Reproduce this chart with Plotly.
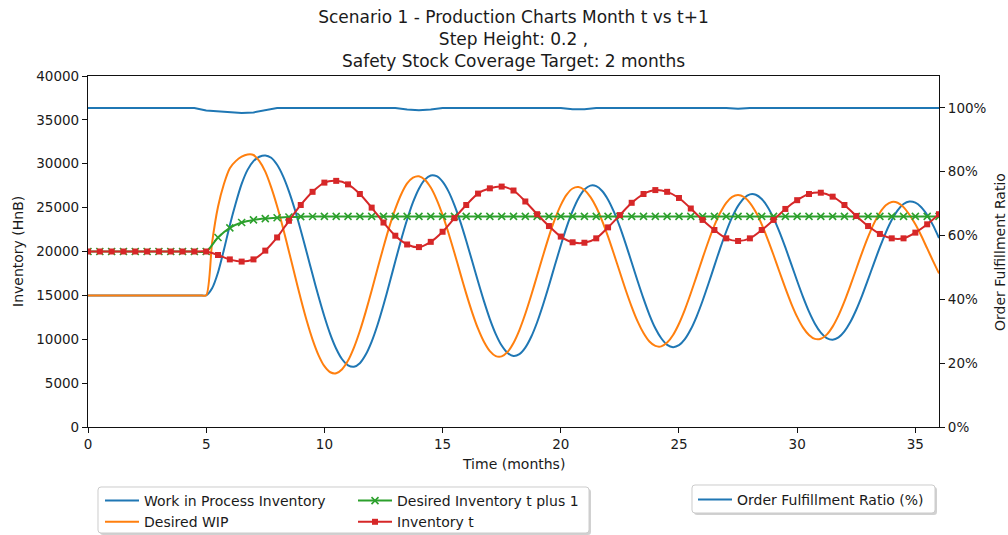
import plotly.graph_objects as go

# ---- data ----
# inventory levels are sampled every 0.5 months, WIP levels every 0.25 months
time_months = [i * 0.5 for i in range(73)]
time_fine = [i * 0.25 for i in range(145)]

wip = [15000] * 20 + [
    15000, 15800, 17600, 20200, 23000, 25500, 27700, 29300, 30300, 30800,
    30950, 30680, 29880, 28590, 26860, 24780, 22420, 19920, 17370, 14890,
    12590, 10560, 8920, 7720, 7030, 6860, 7270, 8250, 9730, 11650,
    13900, 16350, 18890, 21360, 23640, 25620, 27160, 28190, 28670, 28580,
    27960, 26850, 25290, 23400, 21220, 18910, 16580, 14340, 12300, 10590,
    9280, 8440, 8100, 8310, 9050, 10280, 11940, 13930, 16120, 18430,
    20690, 22800, 24620, 26070, 27060, 27510, 27450, 26900, 25910, 24510,
    22800, 20840, 18750, 16640, 14630, 12790, 11250, 10110, 9360, 9100,
    9320, 10010, 11130, 12620, 14390, 16350, 18390, 20410, 22280, 23910,
    25200, 26080, 26510, 26470, 25980, 25080, 23810, 22240, 20470, 18560,
    16640, 14800, 13150, 11780, 10760, 10140, 9950, 10210, 10900, 11960,
    13360, 15000, 16820, 18680, 20490, 22160, 23580, 24690, 25410, 25690,
    25560, 25040, 24160, 22980, 21540,
]

desired_wip = [15000] * 20 + [
    15000, 21000, 25100, 27700, 29500, 30300, 30800, 31050, 31000, 30300,
    29100, 27310, 25160, 22690, 20010, 17290, 14610, 12130, 9960, 8200,
    6930, 6240, 6130, 6590, 7570, 9050, 10940, 13150, 15550, 18050,
    20520, 22840, 24860, 26530, 27760, 28430, 28580, 28190, 27290, 25920,
    24170, 22100, 19850, 17510, 15200, 13070, 11200, 9710, 8640, 8080,
    8050, 8560, 9580, 11050, 12900, 15010, 17260, 19540, 21730, 23680,
    25290, 26480, 27180, 27340, 27010, 26230, 25040, 23500, 21690, 19690,
    17630, 15590, 13700, 12040, 10710, 9740, 9240, 9190, 9620, 10490,
    11770, 13380, 15240, 17230, 19250, 21200, 22970, 24440, 25550, 26230,
    26450, 26210, 25550, 24490, 23090, 21420, 19600, 17690, 15820, 14070,
    12550, 11330, 10490, 10040, 10060, 10530, 11440, 12720, 14310, 16110,
    18010, 19910, 21670, 23210, 24420, 25260, 25640, 25560, 25060, 24190,
    23100, 21800, 20350, 18900, 17500,
]

desired_inv_next = [20000] * 10 + [
    20000, 21600, 22700, 23300, 23600, 23750, 23850, 23930, 23970, 23990,
] + [24000] * 53

inventory_t = [20000] * 10 + [
    20000, 19600, 19100, 18850, 19100, 20100, 21600, 23500, 25300, 26800,
    27850, 28050, 27650, 26550, 25000, 23300, 21800, 20800, 20500, 21100,
    22250, 23800, 25300, 26600, 27200, 27400, 26950, 25700, 24250, 22900,
    21700, 21050, 21000, 21500, 22750, 24150, 25550, 26550, 27000, 26800,
    26100, 24900, 23600, 22450, 21500, 21200, 21500, 22450, 23600, 24850,
    25850, 26550, 26700, 26250, 25300, 24050, 22900, 22000, 21500, 21500,
    22150, 23100, 24250,
]

fulfillment_pct = [100.0] * 10 + [
    99.2, 98.9, 98.6, 98.4, 98.6, 99.2, 100.0, 100.0, 100.0, 100.0,
    100.0, 100.0, 100.0, 100.0, 100.0, 100.0, 100.0, 99.5, 99.3, 99.5,
    100.0, 100.0, 100.0, 100.0, 100.0, 100.0, 100.0, 100.0, 100.0, 100.0,
    100.0, 99.6, 99.6, 100.0, 100.0, 100.0, 100.0, 100.0, 100.0, 100.0,
    100.0, 100.0, 100.0, 100.0, 100.0, 99.7, 100.0, 100.0, 100.0, 100.0,
    100.0, 100.0, 100.0, 100.0, 100.0, 100.0, 100.0, 100.0, 100.0, 100.0,
    100.0, 100.0, 100.0,
]

x_ticks = [0, 5, 10, 15, 20, 25, 30, 35]
inv_ticks = [0, 5000, 10000, 15000, 20000, 25000, 30000, 35000, 40000]
pct_ticks = [0, 20, 40, 60, 80, 100]
pct_labels = [f"{v}%" for v in pct_ticks]

# ---- styling ----
BLUE, ORANGE, GREEN, RED = "#1f77b4", "#ff7f0e", "#2ca02c", "#d62728"
FONT = "DejaVu Sans"
TXT = "#1a1a1a"
W, H = 1008, 535
L, R, T, B = 88, 69, 76, 108
PW, PH = W - L - R, H - T - B

fig = go.Figure()

fig.add_trace(go.Scatter(
    x=time_fine, y=wip, name="Work in Process Inventory", mode="lines",
    line=dict(color=BLUE, width=2, shape="spline", smoothing=0.7),
    legend="legend", legendrank=1,
))
fig.add_trace(go.Scatter(
    x=time_fine, y=desired_wip, name="Desired WIP", mode="lines",
    line=dict(color=ORANGE, width=2, shape="spline", smoothing=0.7),
    legend="legend", legendrank=2,
))
fig.add_trace(go.Scatter(
    x=time_months, y=desired_inv_next, name="Desired Inventory t plus 1",
    mode="lines+markers",
    line=dict(color=GREEN, width=2, shape="spline", smoothing=0.8),
    marker=dict(symbol="x-thin", size=7, line=dict(color=GREEN, width=1.6)),
    legend="legend2", legendrank=1,
))
fig.add_trace(go.Scatter(
    x=time_months, y=inventory_t, name="Inventory t", mode="lines+markers",
    line=dict(color=RED, width=2, shape="spline", smoothing=0.8),
    marker=dict(symbol="square", size=6, color=RED),
    legend="legend2", legendrank=2,
))
fig.add_trace(go.Scatter(
    x=time_months, y=fulfillment_pct, name="Order Fulfillment Ratio (%)",
    mode="lines", yaxis="y2",
    line=dict(color=BLUE, width=2),
    legend="legend3",
))


def to_paper(px, py):
    return (px - L) / PW, (H - B - py) / PH


def box_path(x0, y0, x1, y1, r):
    pts = [
        ("M", x0 + r, y0), ("L", x1 - r, y0), ("Q", x1, y0, x1, y0 + r),
        ("L", x1, y1 - r), ("Q", x1, y1, x1 - r, y1), ("L", x0 + r, y1),
        ("Q", x0, y1, x0, y1 - r), ("L", x0, y0 + r), ("Q", x0, y0, x0 + r, y0),
    ]
    out = []
    for p in pts:
        cmd, coords = p[0], p[1:]
        conv = []
        for i in range(0, len(coords), 2):
            ax, ay = to_paper(coords[i], coords[i + 1])
            conv.append(f"{ax:.5f},{ay:.5f}")
        out.append(cmd + " ".join(conv))
    return " ".join(out) + " Z"


legend_boxes = [(98, 487, 589, 533), (692, 485, 935, 513)]
shapes = []
for (x0, y0, x1, y1) in legend_boxes:
    shapes.append(dict(type="path", xref="paper", yref="paper",
                       path=box_path(x0 + 2, y0 + 2, x1 + 2, y1 + 2, 3),
                       fillcolor="rgba(0,0,0,0.18)", line=dict(width=0), layer="above"))
    shapes.append(dict(type="path", xref="paper", yref="paper",
                       path=box_path(x0, y0, x1, y1, 3),
                       fillcolor="white", line=dict(color="#cccccc", width=1), layer="above"))

legend_common = dict(
    xref="container", yref="container", xanchor="left", yanchor="top",
    orientation="v", bgcolor="rgba(0,0,0,0)", borderwidth=0,
    font=dict(family=FONT, size=14, color=TXT), itemwidth=34,
    tracegroupgap=0,
)

axis_common = dict(
    showgrid=False, zeroline=False, showline=True, linecolor="#111111",
    linewidth=1.2, ticks="outside", ticklen=5, tickwidth=1.2, tickcolor="#111111",
    tickfont=dict(family=FONT, size=13.5, color=TXT),
)

label_font = dict(family=FONT, size=14, color=TXT)
axis_titles = [
    ("Time (months)", 513, 464, 0),
    ("Inventory (HnB)", 18, 252, -90),
    ("Order Fulfillment Ratio", 1000, 252, -90),
]
annotations = []
for text, px, py, angle in axis_titles:
    ax, ay = to_paper(px, py)
    annotations.append(dict(
        text=text, x=ax, y=ay, xref="paper", yref="paper", textangle=angle,
        xanchor="center", yanchor="middle", showarrow=False, font=label_font,
    ))

fig.update_layout(
    width=W, height=H,
    margin=dict(l=L, r=R, t=T, b=B, autoexpand=False),
    paper_bgcolor="white", plot_bgcolor="white",
    font=dict(family=FONT, color=TXT),
    title=dict(
        text="Scenario 1 - Production Charts Month t vs t+1<br>Step Height: 0.2 ,"
             "<br>Safety Stock Coverage Target: 2 months",
        x=0.5, xref="paper", xanchor="center",
        y=1 - 23 / H, yref="container", yanchor="top",
        font=dict(family=FONT, size=17, color=TXT),
    ),
    xaxis=dict(range=[0, 36], tickvals=x_ticks, mirror=True, **axis_common),
    yaxis=dict(range=[0, 40000], tickvals=inv_ticks, tickformat="d", **axis_common),
    yaxis2=dict(
        range=[0, 110], tickvals=pct_ticks, ticktext=pct_labels,
        overlaying="y", side="right", **axis_common,
    ),
    legend=dict(x=100 / W, y=1 - 485 / H, **legend_common),
    legend2=dict(x=353 / W, y=1 - 485 / H, **legend_common),
    legend3=dict(x=693 / W, y=1 - 484 / H, **legend_common),
    shapes=shapes,
    annotations=annotations,
    showlegend=True,
)

fig.write_html("out.html")
